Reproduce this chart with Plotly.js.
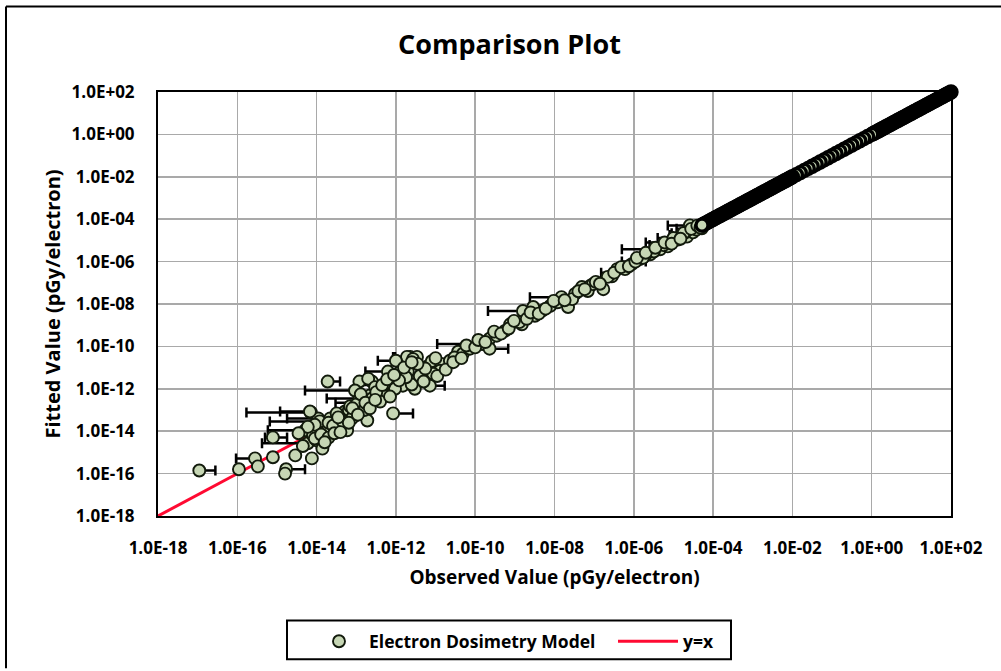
<!DOCTYPE html>
<html><head><meta charset="utf-8">
<script src="https://cdn.plot.ly/plotly-3.0.1.min.js"></script>
<style>html,body{margin:0;padding:0;background:#fff;overflow:hidden}#chart{width:1001px;height:671px}</style>
</head><body><div id="chart"></div>
<script>
// Scattered model points (observed vs fitted), pGy/electron
const observedScatter = [
1.1e-17,1.1e-16,2.8e-16,3.3e-16,7.9e-16,1.7e-15,1.6e-15,7.9e-16,7.2e-15,1.9e-14,
5.1e-15,6.0e-15,7.6e-15,1.1e-14,1.1e-14,2.2e-14,1.8e-14,3.2e-14,5.2e-14,5.9e-14,
9.3e-14,1.4e-14,1.0e-14,2.9e-15,1.2e-14,8.1e-15,1.4e-14,1.2e-13,2.5e-13,6.3e-13,
1.3e-12,2.3e-12,3.4e-12,2.0e-12,3.0e-12,1.5e-12,9.5e-13,4.5e-13,2.2e-13,4.0e-13,
7.1e-13,8.5e-13,6.5e-14,8.3e-14,3.2e-14,1.4e-13,1.9e-13,4.2e-14,1.2e-13,2.0e-13,
7.8e-14,6.8e-15,1.9e-12,2.7e-12,6.5e-12,7.2e-12,2.5e-12,9.5e-13,8.0e-12,1.4e-11,
2.3e-11,3.7e-11,4.9e-11,7.4e-11,1.5e-10,2.3e-10,2.3e-10,3.5e-10,5.6e-10,7.6e-10,
1.5e-9,1.6e-9,1.3e-11,4.6e-12,8.7e-12,1.3e-9,3.2e-9,4.8e-9,7.8e-9,1.2e-8,
2.2e-8,3.3e-8,4.9e-8,7.9e-8,1.7e-7,2.8e-7,3.8e-7,6.0e-7,8.9e-7,1.4e-6,
2.6e-6,4.6e-6,7.2e-6,1.3e-5,2.2e-5,3.1e-5,5.2e-5,1.5e-8,2.8e-8,6.9e-8,
9.3e-8,2.2e-7,1.9e-6,2.9e-9,9.3e-14,2.5e-13,1.0e-12,2.6e-5,
2.0e-14,2.6e-14,4.5e-14,7.0e-14,1.0e-13,1.6e-13,3.0e-13,5.0e-13,3.2e-13,1.8e-12,
1.2e-12,4.0e-12,5.5e-12,1.0e-11,3.0e-11,1.5e-14,9.0e-15,1.3e-13,6.0e-15,3.5e-12,
3.5e-15,4.5e-15,9.0e-15,1.3e-14,2.0e-14,2.8e-14,1.6e-14,3.5e-14,4.0e-14,6.5e-14,
8.0e-14,1.1e-13,1.7e-13,2.2e-13,3.0e-13,4.5e-13,6.0e-13,9.0e-13,1.6e-12,2.5e-12,
5.0e-12,1.1e-11,1.8e-11,2.8e-11,4.5e-11,6.0e-11,1.0e-10,1.2e-10,1.8e-10,3.0e-10,
4.5e-10,7.0e-10,9.5e-10,2.0e-9,2.5e-9,4.0e-9,6.0e-9,9.5e-9,1.8e-8,4.0e-8,
5.8e-8,1.1e-7,1.4e-7,3.2e-7,4.8e-7,7.5e-7,1.1e-6,1.7e-6,3.2e-6,5.6e-6,
8.9e-6,1.6e-5,2.0e-5,3.8e-5,4.2e-5,
1.2e-6,2.0e-6,3.5e-6,6.0e-6,1.0e-5,1.8e-5,2.8e-5,4.0e-5,4.8e-5,9.0e-6,1.5e-5
];
const fittedScatter = [
1.4e-16,1.6e-16,5.2e-16,2.2e-16,5.9e-16,1.6e-16,1.0e-16,5.1e-15,7.6e-14,2.2e-12,
1.1e-14,2.7e-15,5.2e-16,4.0e-14,1.1e-14,4.0e-14,9.8e-15,1.3e-14,8.5e-14,1.1e-14,
5.5e-14,1.9e-15,3.7e-15,7.2e-16,2.9e-14,6.3e-15,1.5e-15,2.2e-12,2.2e-12,6.5e-12,
6.5e-12,3.2e-11,3.2e-11,6.5e-12,1.0e-12,1.4e-12,1.0e-12,7.4e-13,4.8e-13,2.5e-13,
4.3e-13,6.9e-14,1.0e-13,4.9e-14,6.9e-14,6.9e-14,3.2e-14,2.0e-14,3.5e-13,3.0e-12,
4.0e-14,8.5e-14,3.2e-11,2.5e-11,1.2e-11,1.4e-12,1.6e-12,3.7e-12,2.0e-11,1.5e-11,
2.1e-11,5.6e-11,4.5e-11,7.8e-11,1.3e-10,2.3e-10,7.8e-11,3.2e-10,5.4e-10,1.1e-9,
1.1e-9,4.7e-9,7.1e-12,7.1e-12,5.1e-12,1.4e-9,2.8e-9,4.7e-9,8.1e-9,1.2e-8,
7.2e-9,3.0e-8,6.3e-8,7.1e-8,5.0e-8,2.0e-7,4.4e-7,4.4e-7,7.6e-7,1.3e-6,
2.2e-6,3.8e-6,5.2e-6,1.1e-5,1.5e-5,2.4e-5,3.7e-5,2.1e-8,1.7e-8,4.1e-8,
8.7e-8,1.9e-7,1.8e-6,7.2e-9,8.3e-13,3.5e-13,2.1e-11,5.1e-5,
2.5e-14,1.8e-14,3.0e-14,1.5e-13,1.8e-13,1.0e-13,1.2e-12,1.6e-12,7.0e-13,3.5e-12,
2.5e-12,4.0e-12,9.0e-12,2.8e-11,3.0e-11,5.5e-15,2.0e-14,5.5e-13,1.6e-14,1.5e-11,
8.0e-15,2.0e-15,4.5e-15,7.0e-15,5.0e-15,8.0e-15,3.0e-15,4.5e-14,9.0e-15,2.5e-14,
1.2e-13,6.0e-14,2.2e-13,1.2e-13,3.0e-13,1.5e-12,2.8e-12,4.5e-12,1.0e-11,1.8e-11,
2.2e-12,4.0e-12,8.0e-12,1.8e-11,2.8e-11,1.1e-10,9.0e-11,2.0e-10,1.6e-10,5.0e-10,
4.0e-10,7.0e-10,1.6e-9,2.0e-9,4.0e-9,3.5e-9,6.0e-9,1.4e-8,1.5e-8,4.0e-8,
5.0e-8,1.1e-7,9.0e-8,3.0e-7,5.5e-7,6.0e-7,1.0e-6,1.5e-6,3.0e-6,6.0e-6,
8.0e-6,1.8e-5,2.4e-5,3.2e-5,4.5e-5,
1.5e-6,2.6e-6,4.5e-6,8.0e-6,1.3e-5,2.2e-5,3.5e-5,5.0e-5,4.0e-5,7.0e-6,1.2e-5
];
// Dense run of points lying on the 1:1 line (observed = fitted)
const observedDiagonal = [
5.25e-5,5.75e-5,6.31e-5,6.92e-5,7.59e-5,8.32e-5,9.12e-5,
1.0e-4,1.1e-4,1.2e-4,1.32e-4,1.45e-4,1.58e-4,1.74e-4,1.91e-4,2.09e-4,2.29e-4,2.51e-4,2.75e-4,3.02e-4,3.31e-4,3.63e-4,3.98e-4,4.37e-4,4.79e-4,5.25e-4,5.75e-4,6.31e-4,6.92e-4,7.59e-4,8.32e-4,9.12e-4,
1.0e-3,1.1e-3,1.2e-3,1.32e-3,1.45e-3,1.58e-3,1.74e-3,1.91e-3,2.09e-3,2.29e-3,2.51e-3,2.75e-3,3.02e-3,3.31e-3,3.63e-3,3.98e-3,4.37e-3,4.79e-3,5.25e-3,5.75e-3,6.31e-3,6.92e-3,7.59e-3,8.32e-3,9.12e-3,
1.0e-2,1.26e-2,1.58e-2,2.0e-2,2.51e-2,3.16e-2,3.98e-2,5.01e-2,6.31e-2,7.94e-2,
1.0e-1,1.26e-1,1.58e-1,2.0e-1,2.51e-1,3.16e-1,3.98e-1,5.01e-1,6.31e-1,7.94e-1,
1.0,1.1,1.2,1.32,1.45,1.58,1.74,1.91,2.09,2.29,2.51,2.75,3.02,3.31,3.63,3.98,4.37,4.79,5.25,5.75,6.31,6.92,7.59,8.32,9.12,
10,11,12,13.2,14.5,15.8,17.4,19.1,20.9,22.9,25.1,27.5,30.2,33.1,36.3,39.8,43.7,47.9,52.5,57.5,63.1,69.2,75.9,83.2,91.2,100
];
const fittedDiagonal = observedDiagonal;
// Points carrying horizontal error bars: observed, fitted, bar left end, bar right end
const barObserved = [1.1e-17,2.8e-16,1.7e-15,7.9e-16,7.2e-15,1.9e-14,5.1e-15,6.0e-15,1.1e-14,1.2e-14,6.8e-15,9.3e-14,2.5e-13,1.0e-12,6.3e-13,2.3e-12,1.9e-12,8.5e-13,7.2e-12,1.5e-10,2.3e-10,1.6e-9,1.5e-8,4.6e-6,2.6e-5,4.5e-13,1.7e-13,3.2e-7,1.1e-6,5.6e-6,1.6e-5,6.0e-6,1.0e-5,2.8e-5,1.8e-5];
const barFitted   = [1.4e-16,5.2e-16,1.6e-16,5.1e-15,7.6e-14,2.2e-12,1.1e-14,2.7e-15,4.0e-14,2.9e-14,8.5e-14,8.3e-13,3.5e-13,2.1e-11,6.5e-12,3.2e-11,3.2e-11,6.9e-14,1.4e-12,1.3e-10,7.8e-11,4.7e-9,2.1e-8,3.8e-6,5.1e-5,1.5e-12,2.2e-13,3.0e-7,1.0e-6,6.0e-6,1.8e-5,8.0e-6,1.3e-5,3.5e-5,2.2e-5];
const barLeftEnd  = [1.1e-17,9.3e-17,1.7e-15,5.0e-16,1.7e-16,1.9e-14,5.9e-16,4.2e-16,1.8e-15,6.6e-16,1.2e-15,5.1e-15,1.8e-14,3.5e-13,1.7e-13,8.5e-13,9.5e-13,8.5e-13,7.2e-12,1.1e-11,2.3e-10,2.1e-10,2.4e-9,5.0e-7,7.2e-6,1.0e-13,3.0e-14,1.5e-7,5.0e-7,2.5e-6,8.0e-6,2.0e-6,4.0e-6,1.2e-5,9.0e-6];
const barRightEnd = [2.8e-17,2.8e-16,5.1e-15,1.8e-15,7.2e-15,3.9e-14,5.1e-15,6.0e-15,1.1e-14,1.2e-14,6.8e-15,9.3e-14,2.5e-13,1.0e-12,6.3e-13,2.3e-12,1.9e-12,2.7e-12,1.7e-11,1.5e-10,6.8e-10,1.6e-9,1.5e-8,4.6e-6,2.6e-5,4.5e-13,1.7e-13,3.2e-7,2.0e-6,1.0e-5,2.8e-5,6.0e-6,1.0e-5,2.8e-5,1.8e-5];
// y = x reference line
const identityX = [1e-18, 1e2];
const identityY = [1e-18, 1e2];
// Axis ticks
const tickValues = [1e-18,1e-16,1e-14,1e-12,1e-10,1e-8,1e-6,1e-4,1e-2,1e0,1e2];
const tickLabels = ["1.0E-18","1.0E-16","1.0E-14","1.0E-12","1.0E-10","1.0E-08","1.0E-06","1.0E-04","1.0E-02","1.0E+00","1.0E+02"];

const FONT = "'Open Sans', 'Noto Sans', sans-serif";
const L = 158, T = 92, PW = 793, PH = 426;
const px = v => (v - L) / PW;
const py = v => (T + PH - v) / PH;

const FILL = '#c6d6b4', EDGE = '#121a0c';

const traces = [
  {x: identityX, y: identityY, mode: 'lines', name: 'y=x', legend: 'legend2',
   line: {color: '#ff0a32', width: 3}, hoverinfo: 'skip'},
  {x: barObserved, y: barFitted, mode: 'markers', showlegend: false, hoverinfo: 'skip',
   marker: {size: 2, color: 'rgba(0,0,0,0)'},
   error_x: {type: 'data', symmetric: false,
     array: barObserved.map((v, i) => barRightEnd[i] - v),
     arrayminus: barObserved.map((v, i) => v - barLeftEnd[i]),
     color: '#000', thickness: 2.5, width: 5}},
  {x: observedScatter, y: fittedScatter,
   mode: 'markers', name: 'Electron Dosimetry Model', legend: 'legend', cliponaxis: false,
   marker: {symbol: 'circle', size: 12, color: FILL, line: {color: EDGE, width: 1.9}}},
  // drawn from the top end downward so the upper end stays solid dark
  {x: observedDiagonal.slice().reverse(), y: fittedDiagonal.slice().reverse(),
   mode: 'markers', name: 'Electron Dosimetry Model', showlegend: false, cliponaxis: false,
   marker: {symbol: 'circle', size: 12, color: FILL, line: {color: '#000', width: 3.4}}}
];

const axisCommon = {
  type: 'log', range: [-18, 2], tickmode: 'array', tickvals: tickValues, ticktext: tickLabels,
  showgrid: true, gridcolor: '#a9a9a9', gridwidth: 1.5, zeroline: false,
  showline: true, linecolor: '#000', linewidth: 2, mirror: true,
  ticks: 'outside', tickcolor: 'rgba(0,0,0,0)',
  tickfont: {family: FONT, size: 17, color: '#000', weight: 'bold'}
};

const layout = {
  width: 1001, height: 671,
  margin: {l: L, r: 1001 - L - PW, t: T, b: 671 - T - PH},
  paper_bgcolor: '#fff', plot_bgcolor: '#fff',
  title: {text: 'Comparison Plot', x: 509.5 / 1001, xref: 'container', xanchor: 'center',
    y: 1 - 45 / 671, yref: 'container', yanchor: 'middle',
    font: {family: FONT, size: 27, color: '#000', weight: 'bold'}},
  xaxis: Object.assign({}, axisCommon, {ticklen: 16,
    title: {text: 'Observed Value (pGy/electron)', standoff: 12,
      font: {family: FONT, size: 19, color: '#000', weight: 'bold'}}}),
  yaxis: Object.assign({}, axisCommon, {ticklen: 18,
    title: {text: 'Fitted Value (pGy/electron)', standoff: 6,
      font: {family: FONT, size: 20, color: '#000', weight: 'bold'}}}),
  showlegend: true,
  legend: {x: px(309), xanchor: 'left', y: py(644), yanchor: 'middle', orientation: 'h',
    itemwidth: 50,
    bgcolor: 'rgba(0,0,0,0)', font: {family: FONT, size: 17.5, color: '#000', weight: 'bold'}},
  legend2: {x: px(613), xanchor: 'left', y: py(644), yanchor: 'middle', orientation: 'h',
    itemwidth: 60,
    bgcolor: 'rgba(0,0,0,0)', font: {family: FONT, size: 17.5, color: '#000', weight: 'bold'}},
  shapes: [
    {type: 'rect', xref: 'paper', yref: 'paper', x0: px(287), x1: px(731), y0: py(662), y1: py(623),
     line: {color: '#000', width: 2}, fillcolor: 'rgba(0,0,0,0)', layer: 'above'},
    {type: 'line', xref: 'paper', yref: 'paper', x0: px(6), x1: px(6), y0: py(671), y1: py(6),
     line: {color: '#000', width: 2}, layer: 'above'},
    {type: 'line', xref: 'paper', yref: 'paper', x0: px(6), x1: px(1001), y0: py(6), y1: py(6),
     line: {color: '#000', width: 2}, layer: 'above'}
  ]
};

Plotly.newPlot('chart', traces, layout, {displayModeBar: false, staticPlot: true});
</script></body></html>
